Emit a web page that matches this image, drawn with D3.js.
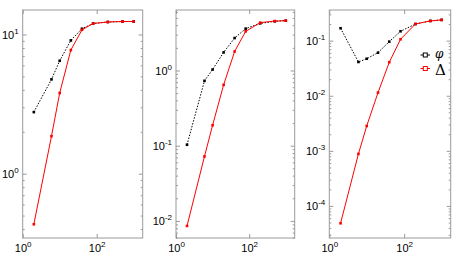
<!DOCTYPE html>
<html>
<head>
<meta charset="utf-8">
<script src="https://cdn.jsdelivr.net/npm/d3@7"></script>
<style>
  body { margin: 0; background: #fff; }
  svg { font-family: "Liberation Sans", Arial, sans-serif; }
  .frame { fill: none; stroke: #9a9a9a; stroke-width: 1; }
  .tick line { stroke: #9a9a9a; }
  .domain { display: none; }
  .tick text { fill: #000; font-size: 11px; }
</style>
</head>
<body>
<script>
// sample sizes (shared by all three panels)
const xs = [2, 6, 10, 20, 40, 80, 200, 500, 1000];

// panel 1
const phi1   = [2.77, 4.76, 6.48, 9.07, 11.0, 12.0, 12.3, 12.4, 12.4];
const delta1 = [0.433, 1.86, 3.8, 7.73, 10.8, 12.0, 12.3, 12.4, 12.4];
// panel 2
const phi2   = [0.103, 0.729, 1.03, 1.74, 2.7, 3.6, 4.23, 4.5, 4.6];
const delta2 = [0.00858, 0.072, 0.187, 0.644, 1.79, 3.31, 4.33, 4.54, 4.6];
// panel 3
const phi3   = [0.168, 0.041, 0.047, 0.0605, 0.096, 0.148, 0.2, 0.228, 0.238];
const delta3 = [4.85e-5, 8.8e-4, 2.83e-3, 0.0114, 0.0406, 0.106, 0.201, 0.228, 0.238];

// y tick exponents
const yExp1 = [0, 1];
const yExp2 = [-2, -1, 0];
const yExp3 = [-4, -3, -2, -1];
const xExp = [0, 2];

const width = 457;
const height = 262;
const plotTop = 10, plotBottom = 238;

const svg = d3.select("body").append("svg").attr("width", width).attr("height", height);

const panels = [
  { left: 22.7, right: 142.7, ydom: [0.345, 15], phi: phi1, delta: delta1, yexp: yExp1 },
  { left: 176, right: 294.7, ydom: [0.00593, 6.37], phi: phi2, delta: delta2, yexp: yExp2 },
  { left: 329.3, right: 450.7, ydom: [2.62e-5, 0.36], phi: phi3, delta: delta3, yexp: yExp3 }
];

// superscript labels "10^n"
function powLabel(sel) {
  sel.selectAll(".tick text").each(function(d) {
    const t = d3.select(this);
    const e = Math.round(Math.log10(d));
    t.text("10");
    t.append("tspan").attr("dy", -5).attr("font-size", 8).text(e);
  });
}

function minorTicks(dom) {
  const out = [];
  const lo = Math.floor(Math.log10(dom[0])), hi = Math.ceil(Math.log10(dom[1]));
  for (let e = lo; e <= hi; e++) {
    for (let m = 2; m <= 9; m++) {
      const v = m * Math.pow(10, e);
      if (v >= dom[0] && v <= dom[1]) out.push(v);
    }
  }
  return out;
}

panels.forEach((p, pi) => {
  const x = d3.scaleLog().domain([1, 1750]).range([p.left, p.right]);
  const y = d3.scaleLog().domain(p.ydom).range([plotBottom, plotTop]);
  const g = svg.append("g");

  // minor y ticks, inward, both sides
  g.append("g").attr("transform", `translate(${p.left},0)`)
    .call(d3.axisLeft(y).tickValues(minorTicks(p.ydom)).tickSize(-2).tickFormat(""));
  g.append("g").attr("transform", `translate(${p.right},0)`)
    .call(d3.axisRight(y).tickValues(minorTicks(p.ydom)).tickSize(-2).tickFormat(""));

  // major y ticks
  const yMaj = p.yexp.map(e => Math.pow(10, e));
  g.append("g").attr("transform", `translate(${p.left},0)`)
    .call(d3.axisLeft(y).tickValues(yMaj).tickSize(-4).tickPadding(4))
    .call(powLabel);
  g.append("g").attr("transform", `translate(${p.right},0)`)
    .call(d3.axisRight(y).tickValues(yMaj).tickSize(-4).tickFormat(""));

  // x ticks
  const xMaj = xExp.map(e => Math.pow(10, e));
  g.append("g").attr("transform", `translate(0,${plotBottom})`)
    .call(d3.axisBottom(x).tickValues(xMaj).tickSize(-4).tickPadding(6))
    .call(powLabel);
  g.append("g").attr("transform", `translate(0,${plotTop})`)
    .call(d3.axisTop(x).tickValues(xMaj).tickSize(-4).tickFormat(""));

  g.append("rect").attr("class", "frame")
    .attr("x", p.left).attr("y", plotTop)
    .attr("width", p.right - p.left).attr("height", plotBottom - plotTop);

  const line = d3.line().x((d, i) => x(xs[i])).y(d => y(d));

  // phi: black dotted
  g.append("path").datum(p.phi)
    .attr("d", line).attr("fill", "none")
    .attr("stroke", "#000").attr("stroke-width", 1).attr("stroke-dasharray", "1.5,1.5");
  g.selectAll(".mphi").data(p.phi).enter().append("rect")
    .attr("x", (d, i) => x(xs[i]) - 1.3).attr("y", d => y(d) - 1.3)
    .attr("width", 2.6).attr("height", 2.6).attr("fill", "#000");

  // delta: red solid
  g.append("path").datum(p.delta)
    .attr("d", line).attr("fill", "none")
    .attr("stroke", "#ff0000").attr("stroke-width", 1);
  g.selectAll(".mdel").data(p.delta).enter().append("rect")
    .attr("x", (d, i) => x(xs[i]) - 1.3).attr("y", d => y(d) - 1.3)
    .attr("width", 2.6).attr("height", 2.6).attr("fill", "#ff0000");

  // legend in last panel
  if (pi === 2) {
    const leg = [
      { c: "#000", label: "\u03C6", y: 55, base: 58, size: 12, italic: true },
      { c: "#ff0000", label: "\u0394", y: 68.5, base: 75, size: 15, italic: false }
    ];
    leg.forEach(l => {
      g.append("line").attr("x1", 420.5).attr("x2", 430).attr("y1", l.y).attr("y2", l.y)
        .attr("stroke", l.c).attr("stroke-width", 1);
      g.append("rect").attr("x", 423.3).attr("y", l.y - 2).attr("width", 4).attr("height", 4)
        .attr("fill", "#fff").attr("stroke", l.c).attr("stroke-width", 1);
      g.append("text").attr("x", 435).attr("y", l.base)
        .attr("font-size", l.size).attr("font-style", l.italic ? "italic" : "normal")
        .attr("font-family", "DejaVu Serif, serif")
        .text(l.label);
    });
  }
});
</script>
</body>
</html>
